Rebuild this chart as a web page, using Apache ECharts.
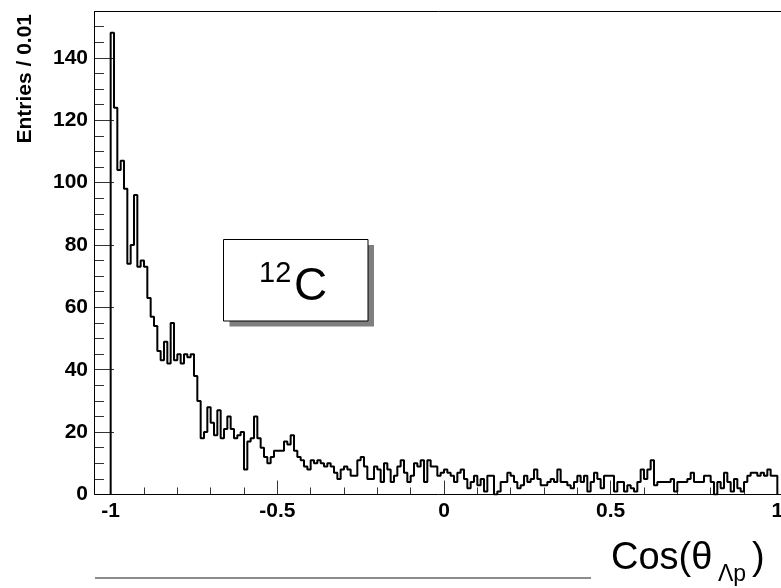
<!DOCTYPE html>
<html><head><meta charset="utf-8">
<script src="https://cdn.jsdelivr.net/npm/echarts@6/dist/echarts.min.js"></script>
<style>html,body{margin:0;padding:0;background:#fff}#c{width:781px;height:588px}</style>
</head><body><div id="c"></div>
<script>
// Histogram binning: 200 bins of width 0.01 from -1 to 1
const binLow = -1;
const binWidth = 0.01;
// Entries per bin
const countsA = [148,124,104,107,98,74,80,96,73,75,73,63,57,54,46,43,49,42,55,43,45,42,45,44,45];
const countsB = [38,30,18,20,28,23,19,27,18,21,25,21,18,19,20,8,17,18,25,18,15,12,10,12,14,14,14,17,16,19,14,12,11,9,8,11,10,11];
const countsC = [10,9,10,9,7,5,8,9,8,6,6,11,12,9,5,5,9,8,4,10,8,4,6,9,11,7,4,6,10,9,11,4,11,9,9,6];
const countsD = [7,8,7,6,4,7,8,5,2,4,6,3,5,1,6,6,0,1,4,4,7,6,4,2,3,6,4,5,8,5,3,3,4,5,4,8];
const countsE = [4,4,3,2,4,6,4,6,1,4,7,5,2,6,6,6,1,4,4,1,3,2,1,4,8,5,8,11,3,4,4,4,4];
const countsF = [5,1,4,4,4,5,7,4,4,4,6,6,4,0,4,2,7,4,1,5,2,1,4,6,7,7,6,7,6,8,6,6];
const counts = [].concat(countsA, countsB, countsC, countsD, countsE, countsF);

const xTickValues = [-1, -0.5, 0, 0.5, 1];
const yTitle = 'Entries / 0.01';
const boxLabelSup = '12';
const boxLabelMain = 'C';

// step outline of the histogram
const histData = [[binLow, 0]];
counts.forEach((c, i) => histData.push([binLow + i * binWidth, c]));
const binHigh = binLow + counts.length * binWidth;
histData.push([binHigh, counts[counts.length - 1]]);
histData.push([binHigh, 0]);

const FONT = '"Liberation Sans", Arial, Helvetica, sans-serif';
const chart = echarts.init(document.getElementById('c'), null, {renderer: 'canvas'});
chart.setOption({
  animation: false,
  backgroundColor: '#fff',
  grid: [
    {left: 94, right: -13, top: -4.61, bottom: 93.5, outerBoundsMode: 'none', containLabel: false},
    {left: 110.67, right: 3.67, top: 11, bottom: 93.5, outerBoundsMode: 'none', containLabel: false}
  ],
  xAxis: [
    {gridIndex: 0, type: 'value', min: -1.05, max: 1.05, show: false},
    {gridIndex: 1, type: 'value', min: -1, max: 1, interval: 0.5, position: 'bottom',
     axisLine: {show: false, onZero: false},
     axisTick: {show: true, inside: true, length: 14, lineStyle: {color: '#333', width: 1}},
     minorTick: {show: true, splitNumber: 5, length: 7, lineStyle: {color: '#333', width: 1}},
     splitLine: {show: false},
     axisLabel: {margin: 6, fontFamily: FONT, fontWeight: 'bold', fontSize: 21, color: '#000',
       formatter: v => { const t = xTickValues.find(x => Math.abs(x - v) < 1e-9); return t === undefined ? '' : String(t); }}
    }
  ],
  yAxis: [
    {gridIndex: 0, type: 'value', min: 0, max: 160, interval: 20, position: 'left',
     axisLine: {show: false, onZero: false},
     axisTick: {show: true, inside: true, length: 20, lineStyle: {color: '#333', width: 1}},
     minorTick: {show: true, splitNumber: 4, length: 10, lineStyle: {color: '#333', width: 1}},
     splitLine: {show: false},
     axisLabel: {margin: 6, showMaxLabel: false, fontFamily: FONT, fontWeight: 'bold', fontSize: 21, color: '#000'}
    },
    {gridIndex: 1, type: 'value', min: 0, max: 1, show: false}
  ],
  series: [{
    type: 'line', xAxisIndex: 0, yAxisIndex: 0,
    step: 'end', symbol: 'none', clip: true,
    data: histData,
    lineStyle: {color: '#000', width: 2},
    z: 5
  }],
  graphic: [
    {type: 'rect', shape: {x: 94.5, y: 11.5, width: 700, height: 483}, style: {fill: null, stroke: '#000', lineWidth: 1}, z: 10, silent: true},
    {type: 'rect', shape: {x: 229.5, y: 245, width: 144.5, height: 81.5}, style: {fill: '#7f7f7f'}, z: 20},
    {type: 'rect', shape: {x: 223.5, y: 239.5, width: 144.5, height: 81.5}, style: {fill: '#fff', stroke: '#000', lineWidth: 1}, z: 21},
    {type: 'text', x: 259, y: 274, style: {text: boxLabelSup, font: '29px ' + FONT, fill: '#000', align: 'left', verticalAlign: 'middle'}, z: 22},
    {type: 'text', x: 294, y: 287, style: {text: boxLabelMain, font: '46px ' + FONT, fill: '#000', align: 'left', verticalAlign: 'middle'}, z: 22},
    {type: 'text', x: 25.5, y: 14, rotation: Math.PI / 2,
     style: {text: yTitle, font: 'bold 21px ' + FONT, fill: '#000', align: 'right', verticalAlign: 'middle'}, z: 22},
    {type: 'text', x: 611, y: 559, style: {text: 'Cos(θ', font: '38px ' + FONT, fill: '#000', align: 'left', verticalAlign: 'middle'}, z: 22},
    {type: 'text', x: 718, y: 575, style: {text: 'Λp', font: '23px ' + FONT, fill: '#000', align: 'left', verticalAlign: 'middle'}, z: 22},
    {type: 'text', x: 752, y: 559, style: {text: ')', font: '38px ' + FONT, fill: '#000', align: 'left', verticalAlign: 'middle'}, z: 22},
    {type: 'line', shape: {x1: 95, y1: 578, x2: 591, y2: 578}, style: {stroke: '#8c8c8c', lineWidth: 2}, z: 22}
  ]
});
</script></body></html>
